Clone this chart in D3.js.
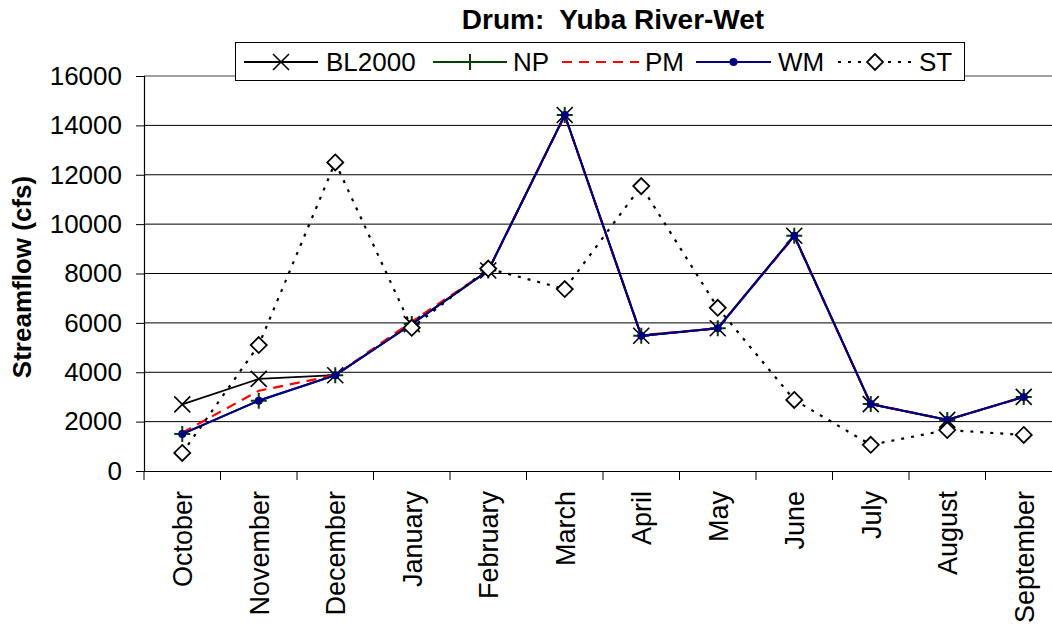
<!DOCTYPE html>
<html><head><meta charset="utf-8">
<script src="https://cdn.jsdelivr.net/npm/d3@7"></script>
<style>body{margin:0;background:#fff}svg{display:block}text{font-family:Arial,"Liberation Sans",sans-serif}</style>
</head><body><svg id="c" width="1052" height="629"></svg>
<script>
const months = ["October","November","December","January","February","March","April","May","June","July","August","September"];
const bl2000 = [2700,3730,3880,5950,8120,14420,5480,5780,9530,2710,2070,3000];
const np = [1500,2850,3880,5950,8120,14420,5480,5780,9530,2710,2070,3000];
const pm = [1550,3250,3880,6050,8120,14400,5500,5780,9500,2720,2070,3000];
const wm = [1500,2850,3880,5950,8120,14420,5480,5780,9530,2710,2070,3000];
const st = [730,5100,12500,5800,8200,7370,11540,6610,2880,1060,1660,1460];
const yTicks = [0,2000,4000,6000,8000,10000,12000,14000,16000];
const seriesNames = ["BL2000","NP","PM","WM","ST"];

const svg = d3.select("#c");
const L = 144, R = 1062, T = 76, B = 471;
const x = d3.scaleBand().domain(months).range([L, R]);
const y = d3.scaleLinear().domain([0,16000]).range([B, T]);
const cx = m => x(m) + x.bandwidth()/2;

// gridlines
svg.append("g").selectAll("line").data(yTicks.filter(v=>v>0)).join("line")
  .attr("x1", L).attr("x2", R).attr("y1", d=>y(d)).attr("y2", d=>y(d))
  .attr("stroke", d=> d===16000 ? "#808080" : "#000").attr("stroke-width", d=>d===16000?1.5:1);

// y axis
const ya = svg.append("g").attr("transform", `translate(${L},0)`)
  .call(d3.axisLeft(y).tickValues(yTicks).tickSize(8).tickPadding(14).tickFormat(d3.format("d")));
ya.select(".domain").attr("stroke","#000").attr("stroke-width",1.2);
ya.selectAll("line").attr("stroke","#000");
ya.selectAll("text").attr("font-size", 26).attr("fill","#000").attr("font-family","Arial,'Liberation Sans',sans-serif");

// x axis
const xa = svg.append("g").attr("transform", `translate(0,${B})`)
  .call(d3.axisBottom(x).tickSize(0).tickFormat(""));
xa.select(".domain").attr("stroke","#000").attr("stroke-width",1.2);
const bounds = d3.range(0, months.length+1).map(i => L + i*x.bandwidth());
svg.append("g").selectAll("line").data(bounds).join("line")
  .attr("x1", d=>d).attr("x2", d=>d).attr("y1", B).attr("y2", B+9)
  .attr("stroke","#000").attr("stroke-width",1);
svg.append("g").selectAll("text").data(months).join("text")
  .attr("transform", d=>`translate(${cx(d)+10},${B+20}) rotate(-90)`)
  .attr("text-anchor","end").attr("font-size",27).attr("fill","#000").text(d=>d);

// y title
svg.append("text").attr("transform","translate(31,277) rotate(-90)")
  .attr("text-anchor","middle").attr("font-size",26).attr("font-weight","bold").text("Streamflow (cfs)");
// title
svg.append("text").attr("x",613).attr("y",29).attr("text-anchor","middle")
  .attr("font-size",28).attr("font-weight","bold").attr("xml:space","preserve").text("Drum:  Yuba River-Wet");

const line = d3.line().x((d,i)=>cx(months[i])).y(d=>y(d));

function marker(g, type, px, py){
  if(type==="x"){
    g.append("path").attr("d",`M${px-8},${py-8}L${px+8},${py+8}M${px-8},${py+8}L${px+8},${py-8}`)
      .attr("stroke","#000").attr("stroke-width",1.6).attr("fill","none");
  } else if(type==="plus"){
    g.append("path").attr("d",`M${px-8},${py}L${px+8},${py}M${px},${py-8}L${px},${py+8}`)
      .attr("stroke","#004000").attr("stroke-width",2).attr("fill","none");
  } else if(type==="dot"){
    g.append("circle").attr("cx",px).attr("cy",py).attr("r",4).attr("fill","#000080");
  } else if(type==="diamond"){
    g.append("path").attr("d",`M${px},${py-8}L${px+8},${py}L${px},${py+8}L${px-8},${py}Z`)
      .attr("stroke","#000").attr("stroke-width",1.8).attr("fill","#fff");
  }
}

const series = [
  {name:"BL2000", data:bl2000, color:"#000", width:1.8, dash:null, mk:"x"},
  {name:"NP", data:np, color:"#004000", width:1.8, dash:null, mk:"plus"},
  {name:"PM", data:pm, color:"#ff0000", width:2.2, dash:"10,7", mk:null},
  {name:"WM", data:wm, color:"#000080", width:2.2, dash:null, mk:"dot"},
  {name:"ST", data:st, color:"#000", width:2.2, dash:"3,7", mk:"diamond"}
];
series.forEach(s=>{
  const g = svg.append("g");
  g.append("path").attr("d", line(s.data)).attr("fill","none").attr("stroke",s.color)
    .attr("stroke-width",s.width).attr("stroke-dasharray",s.dash);
  if(s.mk) s.data.forEach((v,i)=>marker(g, s.mk, cx(months[i]), y(v)));
});

// legend
const lg = svg.append("g");
lg.append("rect").attr("x",235.5).attr("y",42.5).attr("width",729).attr("height",38)
  .attr("fill","#fff").attr("stroke","#000").attr("stroke-width",1);
const items = [
  {s:series[0], x1:244, x2:318, tx:326},
  {s:series[1], x1:433, x2:507, tx:513},
  {s:series[2], x1:562, x2:639, tx:645},
  {s:series[3], x1:696, x2:771, tx:778},
  {s:series[4], x1:838, x2:912, tx:919}
];
const ly = 62;
items.forEach(it=>{
  lg.append("line").attr("x1",it.x1).attr("x2",it.x2).attr("y1",ly).attr("y2",ly)
    .attr("stroke",it.s.color).attr("stroke-width",it.s.width).attr("stroke-dasharray",it.s.dash);
  if(it.s.mk) marker(lg, it.s.mk, (it.x1+it.x2)/2, ly);
  lg.append("text").attr("x",it.tx).attr("y",ly+9).attr("font-size",26).attr("fill","#000").text(it.s.name);
});
</script></body></html>
